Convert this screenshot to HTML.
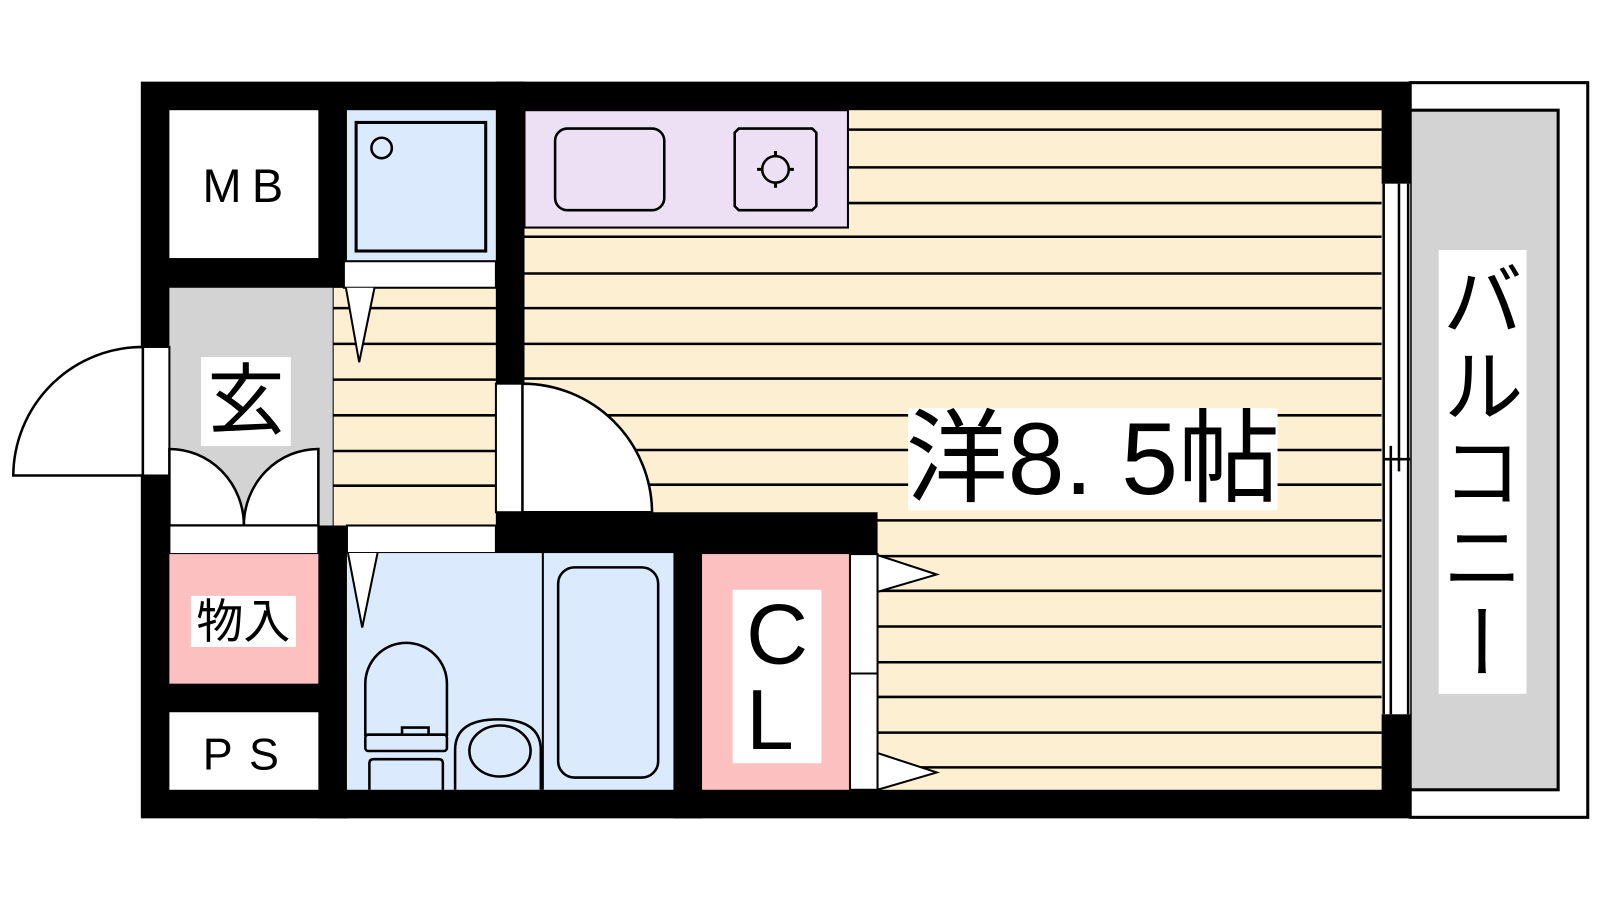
<!DOCTYPE html>
<html><head><meta charset="utf-8"><style>
html,body{margin:0;padding:0;width:1600px;height:900px;overflow:hidden;background:#fff}
#w{position:absolute;left:0;top:0;width:1568px;height:882px;transform:scale(1.0204);transform-origin:0 0}
svg{position:absolute;left:0;top:0}
.lb{position:absolute;background:#fff;font-family:"Liberation Sans","Noto Sans CJK JP",sans-serif;color:#000;display:flex;align-items:center;justify-content:center;line-height:1}
</style></head><body><div id="w">
<svg width="1568" height="882" viewBox="0 0 1568 882">
<rect x="1382" y="81" width="174" height="720" fill="#fff" stroke="#000" stroke-width="3"/>
<rect x="1382" y="108" width="145" height="666" fill="#d3d3d3" stroke="#000" stroke-width="3"/>
<rect x="138" y="80" width="1244" height="722" fill="#000"/>
<rect x="514" y="108" width="840" height="406" fill="#fdf0d2"/>
<rect x="860" y="514" width="494" height="260" fill="#fdf0d2"/>
<rect x="326" y="282" width="160" height="233" fill="#fdf0d2"/>
<g stroke="#000" stroke-width="2.5">
<path d="M832 127H1354M832 164H1354M832 199H1354M514 232H1354M514 268H1354M514 302H1354M514 337H1354M514 371H1354M514 407H1354M514 441H1354M514 475H1354M514 510H1354M860 545H1354M860 579H1354M860 614H1354M860 649H1354M860 683H1354M860 718H1354M860 752H1354"/>
<path d="M326 302H486M326 337H486M326 372H486M326 407H486M326 442H486M326 476H486"/>
<line x1="326" y1="282" x2="326" y2="515" stroke-width="2"/>
</g>
<rect x="166" y="108" width="146" height="145" fill="#fff"/>
<rect x="166" y="253" width="174" height="29" fill="#000"/>
<rect x="340" y="108" width="146" height="148" fill="#dbeafc"/>
<rect x="349" y="120" width="127" height="126" fill="none" stroke="#000" stroke-width="3"/>
<circle cx="374" cy="145" r="10" fill="none" stroke="#000" stroke-width="2.5"/>
<rect x="337" y="256" width="149" height="26" fill="#fff" stroke="#000" stroke-width="2"/>
<path d="M339 282 L352 355 L367 282" fill="#fff" stroke="#000" stroke-width="2"/>
<rect x="166" y="282" width="160" height="233" fill="#d3d3d3"/>
<rect x="138" y="340" width="28" height="126" fill="#fff" stroke="#000" stroke-width="2"/>
<path d="M140 466 L13 466 A127 127 0 0 1 140 340 Z" fill="#fff" stroke="#000" stroke-width="2.5"/>
<path d="M166 515 L166 440 A73 75 0 0 1 239 515 Z" fill="#fff" stroke="#000" stroke-width="2.5"/>
<path d="M312 515 L312 440 A73 75 0 0 0 239 515 Z" fill="#fff" stroke="#000" stroke-width="2.5"/>
<rect x="166" y="515" width="146" height="28" fill="#fff" stroke="#000" stroke-width="2"/>
<rect x="312" y="515" width="28" height="287" fill="#000"/>
<rect x="340" y="515" width="146" height="27" fill="#fff" stroke="#000" stroke-width="2"/>
<rect x="486" y="80" width="28" height="296" fill="#000"/>
<rect x="486" y="376" width="28" height="126" fill="#fff" stroke="#000" stroke-width="2"/>
<rect x="486" y="502" width="374" height="40" fill="#000"/>
<path d="M512 376 A127 127 0 0 1 639 502 L512 502 Z" fill="#fff" stroke="#000" stroke-width="2.5"/>
<rect x="514" y="108" width="317" height="115" fill="#ede0f5" stroke="#000" stroke-width="2"/>
<rect x="544" y="126" width="107" height="80" rx="12" fill="none" stroke="#000" stroke-width="2.5"/>
<path d="M724 126H796L800 130V202L796 206H724L720 202V130Z" fill="none" stroke="#000" stroke-width="2.5"/>
<circle cx="760" cy="166" r="13" fill="none" stroke="#000" stroke-width="2.5"/>
<path d="M760 148V154M760 178V184M742 166H748M772 166H778" stroke="#000" stroke-width="3"/>
<rect x="166" y="543" width="146" height="127" fill="#fdc0c0"/>
<rect x="166" y="698" width="146" height="76" fill="#fff"/>
<rect x="340" y="542" width="320" height="232" fill="#dbeafc"/>
<path d="M341 542 L355 615 L370 542" fill="#fff" stroke="#000" stroke-width="2"/>
<line x1="532" y1="542" x2="532" y2="774" stroke="#000" stroke-width="2"/>
<rect x="547" y="556" width="98" height="206" rx="16" fill="none" stroke="#000" stroke-width="2.5"/>
<path d="M358 720 V670 A40 40 0 0 1 438 670 V720 H420 V713 H394 V720 Z" fill="none" stroke="#000" stroke-width="2.5"/>
<rect x="358" y="720" width="80" height="16" rx="3" fill="none" stroke="#000" stroke-width="2.5"/>
<path d="M362 774 V748 Q362 744 366 744 H430 Q434 744 434 748 V774" fill="none" stroke="#000" stroke-width="2.5"/>
<path d="M446 774 V735 Q446 705 488 705 Q530 705 530 735 V774" fill="none" stroke="#000" stroke-width="2.5"/>
<ellipse cx="490" cy="736" rx="30" ry="25" fill="none" stroke="#000" stroke-width="2.5"/>
<rect x="660" y="540" width="28" height="262" fill="#000"/>
<rect x="688" y="543" width="144" height="231" fill="#fdc0c0"/>
<rect x="833" y="543" width="27" height="231" fill="#fff" stroke="#000" stroke-width="2"/>
<line x1="833" y1="660" x2="860" y2="660" stroke="#000" stroke-width="2"/>
<path d="M860 544 L918 563 L860 580 Z" fill="#fff" stroke="#000" stroke-width="2"/>
<path d="M860 738 L918 757 L860 774 Z" fill="#fff" stroke="#000" stroke-width="2"/>
<rect x="1354" y="180" width="28" height="520" fill="#fff"/>
<g stroke="#000" stroke-width="2.5">
<path d="M1356 180V700M1380 180V700M1371 180V462M1363 437V700M1356 450H1382"/>
</g>
</svg>
<div class="lb" style="left:197px;top:350px;width:88px;height:87px;font-size:76px">玄</div>
<div class="lb" style="left:187px;top:584px;width:103px;height:50px;font-size:46px">物入</div>
<div class="lb" style="left:166px;top:152px;width:146px;height:60px;background:none;font-size:46px;letter-spacing:10px;padding-left:8px;box-sizing:border-box">MB</div>
<div class="lb" style="left:166px;top:710px;width:146px;height:60px;background:none;font-size:44px;letter-spacing:16px;padding-left:10px;box-sizing:border-box">PS</div>
<div class="lb" style="left:718px;top:578px;width:87px;height:170px;font-size:84px;flex-direction:column;line-height:84px">C<br>L</div>
<div class="lb" style="left:890px;top:400px;width:362px;height:100px;font-size:100px;white-space:nowrap;letter-spacing:0px">洋8.&nbsp;5帖</div>
<div class="lb" style="left:1410px;top:245px;width:86px;height:435px;font-size:80px;writing-mode:vertical-rl;white-space:nowrap;font-family:'Noto Sans CJK JP',sans-serif;letter-spacing:4px">バルコニー</div>
</div></body></html>
